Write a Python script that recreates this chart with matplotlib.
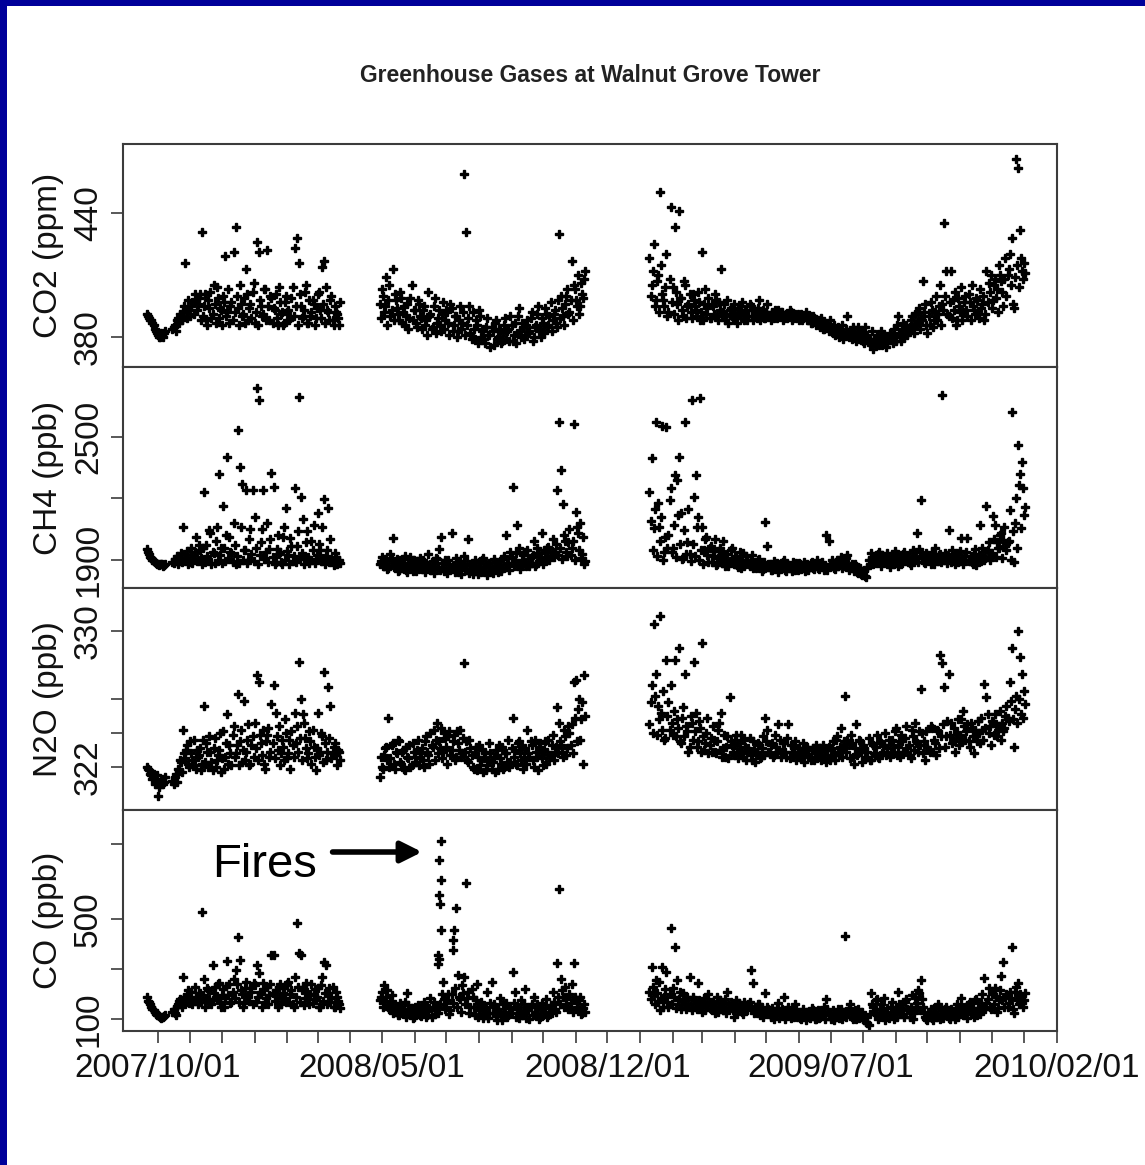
import numpy as np
import pandas as pd
import matplotlib
matplotlib.use("Agg")
import matplotlib.pyplot as plt
import matplotlib.dates as mdates
from matplotlib.patches import Rectangle

nan = np.nan
plt.rcParams['font.family'] = ['Liberation Sans', 'DejaVu Sans']

# ---------------- data ----------------
title = "Greenhouse Gases at Walnut Grove Tower"
seg_starts = ['2007-09-21', '2008-04-29', '2009-01-10']   # "a" samples: even days, "b" samples: +1 day
ylabels = ["CO2 (ppm)", "CH4 (ppb)", "N2O (ppb)", "CO (ppb)"]

co2_s1 = [391, 389, 388, 386, 383, 381, 380, 381, 382, nan,
          nan, nan, 384, 386, 388, 387, 390, 392, 416, 389,
          393, 395, 391, 398, 396, 401, 431, 395, 388, 398,
          402, 391, 396, 404, 389, 393, 400, 419, 392, 387,
          397, 421, 433, 394, 405, 390, 399, 413, 388, 396,
          402, 387, 426, 421, 395, 391, 403, 422, 388, 399,
          394, 401, 386, 397, 392, 387, 400, 393, 389, 404,
          423, 428, 416, 395, 390, 402, 387, 398, 392, 396,
          389, 401, 393, 414, 417, 404, 392, 398, 388, 395,
          391, 386]
co2_s2 = [396, 403, 392, 409, 398, 390, 413, 401, 394, 388,
          399, 392, 386, 396, 389, 405, 393, 387, 398, 390,
          384, 395, 388, 402, 391, 385, 399, 387, 393, 383,
          397, 388, 392, 381, 394, 386, 390, 383, 395, 387,
          459, 431, 389, 382, 392, 379, 386, 393, 380, 384,
          377, 389, 381, 385, 376, 388, 380, 383, 378, 386,
          379, 384, 390, 378, 387, 382, 394, 380, 385, 381,
          388, 383, 392, 380, 386, 395, 384, 389, 382, 391,
          386, 397, 388, 393, 385, 430, 400, 390, 396, 403,
          392, 417, 405, 398, 410, 395, 401, 408]
co2_s3 = [418, 405, 425, 398, 410, 450, 401, 395, 420, 392,
          443, 404, 433, 396, 441, 399, 390, 405, 395, 401,
          389, 398, 393, 402, 388, 421, 396, 391, 399, 389,
          395, 401, 390, 397, 413, 392, 388, 398, 393, 390,
          396, 389, 394, 391, 397, 388, 393, 390, 395, 388,
          392, 389, 398, 391, 393, 389, 396, 390, 392, 389,
          391, 393, 390, 392, 389, 391, 390, 392, 389, 391,
          390, 388, 391, 389, 390, 388, 390, 387, 389, 386,
          388, 385, 387, 384, 386, 383, 385, 382, 381, 384,
          380, 382, 379, 381, 390, 383, 379, 382, 378, 385,
          380, 383, 377, 381, 379, 376, 374, 378, 381, 376,
          383, 378, 380, 377, 382, 379, 384, 378, 390, 381,
          384, 380, 386, 383, 388, 385, 391, 387, 394, 389,
          407, 396, 382, 386, 393, 388, 400, 391, 405, 396,
          435, 412, 390, 412, 398, 402, 388, 395, 404, 392,
          400, 390, 397, 405, 393, 399, 391, 403, 396, 388,
          412, 406, 410, 398, 408, 403, 415, 407, 395, 418,
          410, 420, 428, 394, 466, 462, 432, 412, 416]
co2_s1b = [390, 388, 387, 384, 382, 380, 382, 380, 383, nan,
           nan, nan, 385, 383, 389, 391, 388, 395, 393, 398,
           390, 397, 401, 393, 399, 388,
           390, 401, 386, 394, 389, 405, 387, 399, 394, 386,
           397, 390, 403, 395, 388, 392, 400, 386, 396, 391,
           387, 401, 394, 389, 406, 392, 386, 398, 390, 403,
           388, 395, 400, 387, 393, 389, 404, 391, 386, 397,
           392, 388, 399, 390, 395, 386, 401, 389, 393, 405,
           387, 390, 398, 386, 394, 402, 389, 396, 387, 393,
           388, 400, 386, 392, 389, 397]
co2_s2b = [389, 400, 395, 386, 405, 393, 388, 398, 391, 402,
           387, 395, 390, 384, 399, 388, 393, 385, 396, 389,
           393, 386, 381, 390, 384, 395, 382, 389, 386, 391,
           384, 393, 387, 396, 383, 390, 380, 388, 384, 392,
           381, 386, 395, 379, 384, 388, 377, 390, 383, 379,
           385, 381, 375, 383, 387, 379, 384, 377, 382, 389,
           383, 378, 386, 381, 377, 390, 383, 387, 379, 386,
           382, 389, 378, 385, 391, 383, 380, 387, 394, 385,
           390, 383, 391, 387, 398, 389, 394, 386, 400, 391,
           398, 388, 403, 395, 391, 406, 399, 412]
co2_s3b = [400, 412, 395, 407, 392, 415, 398, 404, 390, 408,
           397, 391, 402, 388, 399, 393, 407, 389, 396, 392,
           401, 395, 390, 397, 392, 388, 403, 394, 389, 396,
           391, 398, 388, 393, 390, 396, 391, 387, 394, 389,
           392, 387, 391, 395, 389, 392, 388, 396, 390, 393,
           390, 394, 388, 391, 389, 392, 390, 388, 391, 393,
           389, 390, 392, 388, 390, 389, 393, 388, 390, 389,
           391, 389, 388, 390, 392, 389, 387, 390, 388, 387,
           386, 389, 384, 387, 385, 388, 384, 386, 383, 385,
           383, 386, 381, 384, 380, 382, 385, 380, 383, 379,
           382, 378, 385, 380, 377, 383, 379, 376, 380, 378,
           376, 381, 375, 379, 381, 377, 380, 386, 382, 378,
           387, 383, 381, 385, 390, 382, 386, 392, 384, 388,
           392, 386, 390, 397, 385, 392, 388, 395, 386, 393,
           400, 391, 397, 389, 393, 386, 399, 392, 388, 397,
           393, 401, 388, 395, 391, 398, 389, 394, 400, 391,
           397, 402, 394, 405, 399, 392, 410, 402, 408, 400,
           413, 405, 396, 409, 415, 404, 418, 408, 411]

ch4_s1 = [1955, 1930, 1910, 1895, 1885, 1880, 1878, 1882, 1876, nan,
          nan, nan, 1890, 1905, 1920, 1895, 1935, 2060, 1910, 1945,
          1890, 1960, 1925, 2010, 1900, 1950, 1880, 2230, 1975, 1905,
          2030, 1940, 1885, 2060, 2320, 1960, 2165, 1895, 2400, 2010,
          1935, 2080, 1880, 2535, 2355, 2270, 1950, 2240, 1900, 2050,
          2240, 2110, 2740, 2680, 1985, 2240, 1910, 2080, 1955, 2325,
          2255, 1890, 2020, 1940, 1880, 2060, 2155, 1925, 2005, 1895,
          2250, 1970, 2695, 2205, 2100, 1915, 2040, 1885, 1990, 2070,
          1905, 2130, 1950, 2060, 2195, 1920, 2155, 2000, 1895, 1935,
          1880, 1900]
ch4_s2 = [1880, 1915, 1870, 1900, 1860, 1930, 2005, 1875, 1905, 1850,
          1890, 1870, 1920, 1840, 1885, 1860, 1900, 1845, 1880, 1910,
          1855, 1890, 1865, 1930, 1850, 1895, 1870, 1905, 1955, 2010,
          1860, 1900, 1835, 1880, 2030, 1865, 1910, 1840, 1895, 1870,
          1920, 1850, 2000, 1875, 1830, 1900, 1855, 1890, 1840, 1910,
          1865, 1825, 1885, 1850, 1905, 1870, 1840, 1895, 1860, 1920,
          2020, 1880, 1940, 2255, 1900, 2070, 1960, 1875, 1925, 1890,
          1950, 1870, 1915, 1990, 1880, 1935, 1900, 2030, 1950, 1905,
          1965, 1920, 2000, 1940, 2240, 2575, 2340, 2175, 1990, 1920,
          2050, 1960, 2565, 2135, 2030, 2080, 1930, 1880]
ch4_s3 = [2230, 2395, 2055, 2575, 2180, 1990, 2555, 1940, 2550, 2020,
          2250, 1960, 2315, 2290, 2400, 2130, 1910, 2575, 1985, 1930,
          2680, 2205, 2315, 2110, 2690, 2060, 1950, 2010, 1890, 1970,
          1920, 2000, 1880, 1945, 1905, 1990, 1870, 1930, 1895, 1960,
          1880, 1915, 1865, 1940, 1895, 1870, 1920, 1880, 1900, 1860,
          1890, 1870, 1905, 1875, 1855, 2085, 1970, 1880, 1850, 1895,
          1860, 1840, 1880, 1870, 1900, 1845, 1875, 1860, 1890, 1850,
          1870, 1885, 1855, 1875, 1845, 1880, 1865, 1890, 1855, 1880,
          1860, 1875, 1890, 1850, 2020, 1990, 1870, 1885, 1855, 1900,
          1880, 1915, 1870, 1895, 1925, 1860, 1880, 1845, 1870, 1835,
          1860, 1825, 1850, 1815, 1900, 1935, 1880, 1920, 1895, 1940,
          1870, 1915, 1890, 1935, 1865, 1905, 1880, 1930, 1870, 1910,
          1885, 1940, 1895, 1920, 1875, 1950, 1900, 2030, 1955, 2190,
          1910, 1885, 1925, 1900, 1940, 1880, 1915, 1895, 1930, 2705,
          1900, 1925, 2045, 1890, 1910, 1880, 1935, 1895, 2005, 1880,
          1920, 2005, 1900, 1890, 1930, 1875, 1905, 2070, 1960, 1900,
          2165, 1985, 1920, 2115, 2070, 1985, 1960, 2030, 1995, 1970,
          1985, 2145, 2620, 1890, 2200, 2460, 2320, 2380, 2120]
ch4_s1b = [1940, 1915, 1900, 1890, 1880, 1875, 1880, 1872, 1878, nan,
           nan, nan, 1885, 1895, 1880, 1910, 1890, 1925, 1900, 1880,
           1915, 1885, 1940, 1895, 1975, 1910, 1960, 1890, 1920, 2045,
           1880, 1935, 1990, 1895, 1925, 1885, 1960, 2020, 1905, 1940,
           1890, 1975, 1920, 1885, 2060, 1900, 1950, 1885, 2000, 1930,
           1895, 1960, 1880, 1925, 2050, 1905, 1940, 1890, 2000, 1915,
           1880, 1955, 1930, 1890, 2010, 1900, 1945, 1880, 1970, 1920,
           1890, 2040, 1905, 1935, 1880, 1985, 1915, 1900, 1950, 1885,
           1925, 1980, 1895, 1910, 1880, 1950, 1890, 1905, 1875, 1915,
           1895, 1885]
ch4_s2b = [1895, 1870, 1905, 1855, 1885, 1910, 1865, 1890, 1845, 1900,
           1860, 1905, 1850, 1880, 1915, 1845, 1870, 1895, 1855, 1880,
           1900, 1840, 1875, 1860, 1890, 1835, 1910, 1865, 1850, 1885,
           1845, 1875, 1900, 1855, 1870, 1840, 1890, 1860, 1830, 1880,
           1855, 1895, 1835, 1870, 1850, 1885, 1830, 1865, 1900, 1845,
           1880, 1850, 1870, 1835, 1890, 1855, 1875, 1845, 1905, 1865,
           1885, 1850, 1910, 1870, 1935, 1880, 1855, 1900, 1940, 1870,
           1905, 1885, 1925, 1870, 1960, 1895, 1915, 1880, 1935, 1960,
           1900, 1945, 1915, 1980, 1925, 1960, 1905, 2020, 1940, 1985,
           1925, 1990, 1900, 2060, 1950, 1910, 2010, 1895]
ch4_s3b = [2090, 1950, 2150, 1920, 2060, 2110, 1900, 2010, 1960, 2190,
           1940, 2070, 1915, 2120, 1980, 1905, 2045, 1930, 2150, 1895,
           1980, 1920, 2060, 1900, 1950, 1880, 2000, 1925, 1960, 1890,
           1945, 1875, 1910, 1960, 1885, 1930, 1900, 1870, 1950, 1890,
           1920, 1875, 1905, 1860, 1935, 1880, 1900, 1870, 1925, 1885,
           1860, 1900, 1875, 1845, 1890, 1865, 1880, 1850, 1875, 1860,
           1885, 1855, 1870, 1890, 1850, 1880, 1865, 1845, 1870, 1885,
           1850, 1880, 1860, 1890, 1870, 1850, 1885, 1860, 1875, 1900,
           1855, 1885, 1865, 1870, 1850, 1880, 1900, 1860, 1890, 1870,
           1900, 1860, 1885, 1910, 1850, 1870, 1860, 1880, 1840, 1860,
           1830, 1845, 1820, 1860, 1880, 1910, 1900, 1885, 1930, 1900,
           1925, 1890, 1905, 1880, 1920, 1900, 1945, 1890, 1915, 1880,
           1930, 1900, 1910, 1885, 1935, 1905, 1920, 1890, 1940, 1910,
           1890, 1935, 1905, 1880, 1920, 1960, 1900, 1925, 1890, 1910,
           1935, 1885, 1915, 1950, 1900, 1925, 1890, 1945, 1910, 1900,
           1940, 1895, 1920, 1880, 1955, 1910, 1925, 1895, 1940, 1910,
           1950, 1900, 1935, 2000, 1915, 1960, 2020, 1910, 2060, 1950,
           1990, 1900, 2040, 2080, 1960, 2265, 2055, 2250, 2160]

n2o_s1 = [322.0, 321.8, 321.5, 321.6, 321.2, 320.3, 321.0, 321.3, 321.1, nan,
          nan, nan, 321.2, 321.4, 321.1, 321.8, 322.3, 324.2, 322.5, 323.3,
          322.0, 322.8, 323.6, 321.9, 322.6, 323.1, 322.2, 325.6, 323.4, 322.0,
          322.9, 321.8, 323.7, 322.4, 323.0, 321.7, 324.1, 322.6, 325.1, 323.3,
          322.1, 324.4, 322.8, 326.3, 323.5, 322.3, 325.9, 322.9, 324.5, 322.2,
          323.8, 324.6, 327.4, 327.0, 323.4, 324.2, 321.9, 323.9, 322.6, 325.7,
          326.8, 325.2, 323.0, 322.1, 323.6, 322.4, 324.0, 322.8, 321.9, 323.3,
          325.2, 324.4, 328.2, 326.0, 325.1, 323.7, 322.5, 324.1, 322.2, 323.2,
          321.8, 325.2, 322.9, 323.8, 327.6, 322.4, 326.7, 325.6, 322.8, 323.4,
          322.1, 322.9]
n2o_s2 = [321.4, 322.0, 322.7, 323.2, 324.9, 322.5, 323.4, 321.9, 322.8, 323.5,
          322.2, 323.0, 321.8, 322.6, 323.3, 322.1, 322.9, 322.3, 323.6, 322.5,
          323.1, 322.0, 323.8, 322.7, 324.0, 323.2, 322.4, 324.6, 323.5, 324.3,
          322.9, 323.7, 322.2, 324.1, 323.0, 323.9, 322.6, 323.4, 324.2, 322.8,
          328.1, 323.5, 322.3, 323.1, 322.0, 322.8, 321.8, 323.3, 322.4, 321.7,
          322.9, 322.1, 323.4, 321.9, 322.6, 323.0, 321.8, 322.5, 323.2, 322.0,
          322.8, 323.6, 322.3, 324.9, 323.0, 322.1, 323.5, 322.4, 321.9, 323.1,
          324.2, 322.6, 323.3, 322.0, 322.9, 321.8, 323.4, 322.5, 323.0, 322.2,
          323.6, 322.7, 323.9, 322.9, 325.5, 324.6, 323.3, 322.6, 323.8, 323.1,
          324.0, 324.5, 327.0, 327.1, 325.4, 323.6, 325.8, 327.4]
n2o_s3 = [324.5, 326.8, 330.4, 327.5, 325.6, 330.9, 324.2, 323.6, 328.3, 325.8,
          326.8, 323.9, 328.3, 324.8, 329.0, 323.4, 325.5, 327.5, 324.1, 323.2,
          324.6, 328.2, 325.2, 323.5, 324.3, 329.3, 323.0, 324.0, 322.8, 323.7,
          324.4, 322.9, 323.5, 324.6, 325.2, 323.1, 322.6, 323.8, 326.1, 323.3,
          322.7, 323.9, 322.5, 323.4, 322.8, 323.6, 322.4, 323.1, 322.7, 323.5,
          322.3, 322.9, 323.3, 322.6, 323.8, 324.9, 324.2, 322.8, 323.4, 322.7,
          323.2, 324.5, 323.6, 322.9, 323.4, 322.6, 324.5, 323.3, 322.8, 323.5,
          322.7, 323.1, 322.5, 323.4, 322.9, 323.2, 322.6, 323.0, 322.4, 323.3,
          322.7, 323.1, 322.5, 322.9, 322.3, 323.2, 322.6, 323.5, 322.4, 323.8,
          322.7, 324.3, 323.2, 326.2, 323.6, 322.5, 323.4, 322.2, 324.5, 322.8,
          323.5, 322.3, 323.1, 322.6, 323.7, 322.4, 323.3, 322.7, 323.9, 322.5,
          323.4, 322.9, 324.0, 323.1, 322.6, 323.6, 322.8, 324.3, 323.2, 322.6,
          323.5, 322.9, 324.4, 323.3, 322.5, 323.8, 324.6, 323.4, 324.1, 326.6,
          322.8, 322.4, 323.2, 322.9, 324.3, 323.6, 322.7, 324.1, 328.6, 328.1,
          326.7, 323.8, 327.5, 324.6, 323.5, 322.9, 324.0, 323.3, 324.8, 325.3,
          323.6, 324.5, 323.2, 324.3, 322.8, 323.9, 324.7, 323.4, 324.2, 326.9,
          326.1, 324.0, 323.3, 324.6, 325.1, 323.8, 324.4, 323.6, 324.1, 325.0,
          324.9, 327.0, 329.0, 323.2, 326.2, 330.0, 328.5, 327.5, 326.5]
n2o_s1b = [321.9, 321.6, 321.3, 321.0, 321.5, 320.8, 321.2, 321.0, 321.4, nan,
           nan, nan, 321.0, 321.6, 321.9, 322.4, 321.7, 322.8, 323.0, 322.2,
           323.5, 322.4, 322.1, 323.0, 322.7, 321.8, 323.6, 322.3, 322.9, 323.8,
           322.3, 323.1, 322.0, 322.7, 324.0, 322.5, 321.9, 323.4, 322.2, 322.8,
           323.9, 322.6, 323.3, 322.1, 324.2, 323.0, 322.4, 323.6, 322.1, 323.3,
           322.6, 323.1, 322.4, 323.9, 322.7, 322.2, 323.5, 324.3, 322.9, 323.4,
           322.5, 323.8, 324.4, 322.8, 323.2, 324.8, 322.5, 323.6, 324.1, 322.6,
           323.4, 322.9, 323.7, 322.4, 324.6, 323.1, 322.8, 323.5, 324.2, 322.6,
           323.1, 322.7, 324.0, 322.3, 323.4, 322.9, 323.7, 322.5, 323.2, 322.7,
           323.0, 322.4]
n2o_s2b = [322.6, 321.9, 323.1, 322.4, 322.0, 323.3, 322.2, 322.9, 323.6, 322.3,
           322.9, 321.9, 323.2, 322.5, 322.0, 323.4, 322.6, 323.0, 322.1, 322.8,
           322.4, 323.5, 322.9, 322.2, 323.3, 324.2, 323.6, 322.8, 323.1, 322.5,
           324.0, 323.2, 323.8, 322.7, 323.5, 322.4, 324.1, 323.0, 322.6, 323.7,
           322.9, 322.4, 323.6, 322.7, 321.9, 323.2, 322.6, 322.1, 323.0, 322.5,
           321.8, 322.4, 322.8, 322.3, 321.7, 322.7, 323.3, 322.2, 321.9, 322.8,
           322.3, 322.0, 323.1, 322.6, 322.2, 323.4, 322.8, 323.2, 322.5, 322.2,
           322.8, 323.5, 322.4, 323.6, 322.6, 323.2, 322.7, 322.1, 323.5, 322.9,
           322.5, 323.3, 322.4, 323.2, 322.8, 323.5, 322.9, 324.2, 322.7, 324.4,
           323.3, 322.8, 324.9, 323.5, 326.0, 324.8, 322.2, 325.0]
n2o_s3b = [325.8, 324.0, 326.2, 323.9, 324.8, 325.2, 326.5, 323.7, 325.0, 324.2,
           324.6, 325.3, 323.8, 324.3, 323.5, 324.9, 323.8, 324.4, 322.9, 325.0,
           323.6, 324.1, 323.2, 324.7, 322.9, 323.8, 323.4, 324.9, 323.3, 322.9,
           323.6, 322.8, 324.2, 323.0, 322.6, 323.9, 323.2, 322.5, 323.5, 322.9,
           323.6, 323.1, 322.8, 323.9, 322.6, 323.2, 322.9, 323.7, 322.4, 323.0,
           322.8, 323.4, 322.5, 323.1, 322.7, 323.5, 322.9, 323.3, 322.6, 323.9,
           322.8, 323.0, 322.6, 323.4, 322.9, 323.7, 322.5, 322.9, 323.2, 322.4,
           323.1, 322.6, 322.9, 322.3, 323.2, 322.7, 322.4, 323.1, 322.8, 322.5,
           323.0, 322.4, 323.3, 322.7, 323.0, 322.4, 323.1, 322.8, 323.6, 322.9,
           323.2, 322.6, 323.5, 322.9, 323.3, 323.9, 322.6, 323.1, 322.7, 323.6,
           322.9, 323.3, 322.5, 322.9, 322.4, 323.4, 322.8, 323.2, 322.6, 323.5,
           322.8, 323.3, 322.7, 323.6, 322.9, 323.3, 324.1, 322.7, 323.5, 323.9,
           322.9, 323.7, 323.1, 322.7, 324.2, 323.0, 323.5, 322.9, 323.3, 324.0,
           323.5, 324.1, 323.0, 324.4, 322.9, 323.4, 324.2, 323.1, 323.8, 324.5,
           323.2, 324.7, 323.9, 323.4, 324.3, 323.7, 324.8, 323.9, 323.5, 324.4,
           324.1, 323.5, 324.6, 323.8, 324.2, 323.5, 324.0, 324.9, 323.6, 324.3,
           325.1, 324.4, 324.7, 323.9, 324.5, 324.2, 325.3, 324.6, 324.3, 325.6,
           324.7, 325.9, 324.8, 325.4, 324.6, 326.0, 325.1, 324.9, 325.7]

co_s1 = [188, 170, 148, 135, 122, 116, 110, 108, 112, nan,
         nan, nan, 130, 124, 150, 172, 160, 268, 182, 198,
         165, 210, 175, 190, 160, 205, 528, 260, 180, 215,
         168, 316, 230, 175, 245, 150, 220, 185, 332, 240,
         170, 260, 296, 428, 336, 200, 165, 250, 190, 225,
         160, 235, 316, 284, 200, 245, 170, 230, 195, 356,
         356, 215, 150, 240, 185, 225, 170, 250, 200, 160,
         268, 484, 364, 356, 230, 185, 210, 160, 240, 195,
         175, 225, 150, 268, 328, 316, 205, 170, 230, 150,
         190, 160]
co_s2 = [176, 208, 236, 190, 150, 172, 125, 160, 138, 115,
         148, 130, 168, 204, 122, 145, 110, 135, 155, 118,
         142, 170, 108, 132, 185, 150, 120, 150, 340, 812,
         248, 140, 175, 120, 200, 456, 544, 276, 180, 236,
         268, 644, 210, 150, 190, 118, 240, 135, 170, 105,
         150, 210, 125, 248, 160, 112, 140, 185, 98, 130,
         165, 115, 150, 288, 208, 140, 105, 175, 125, 220,
         145, 100, 160, 190, 120, 148, 108, 165, 130, 180,
         115, 155, 210, 140, 324, 620, 260, 190, 230, 150,
         200, 240, 324, 175, 140, 190, 125, 160]
co_s3 = [210, 308, 204, 256, 170, 136, 308, 190, 288, 150,
         464, 225, 388, 256, 180, 140, 205, 160, 190, 268,
         135, 175, 150, 244, 170, 130, 185, 155, 200, 140,
         170, 125, 190, 150, 165, 135, 180, 208, 145, 160,
         108, 175, 140, 155, 130, 170, 145, 160, 296, 244,
         150, 125, 160, 135, 110, 204, 150, 120, 145, 100,
         130, 165, 115, 140, 188, 120, 150, 105, 135, 160,
         110, 125, 100, 140, 115, 130, 105, 145, 120, 100,
         135, 110, 125, 150, 180, 115, 100, 135, 110, 125,
         105, 140, 118, 432, 130, 160, 110, 125, 100, 140,
         115, 130, 95, 90, 76, 204, 150, 120, 180, 110,
         160, 135, 95, 145, 115, 170, 100, 140, 208, 125,
         160, 110, 180, 135, 150, 100, 190, 165, 204, 256,
         150, 110, 95, 130, 105, 145, 120, 160, 100, 135,
         115, 150, 105, 140, 125, 100, 160, 130, 185, 115,
         150, 105, 170, 135, 110, 180, 145, 120, 200, 264,
         165, 225, 140, 200, 224, 130, 180, 272, 328, 190,
         150, 210, 388, 124, 230, 244, 200, 165, 176]
co_s1b = [172, 160, 140, 128, 118, 112, 106, 110, 115, nan,
          nan, nan, 140, 118, 162, 180, 150, 190, 170, 215,
          185, 160, 228, 178, 205, 168, 195, 150, 225, 182,
          160, 205, 188, 240, 170, 198, 150, 232, 195, 165,
          210, 185, 240, 170, 215, 150, 225, 190, 172, 208,
          245, 168, 190, 210, 150, 222, 185, 160, 240, 205,
          172, 195, 228, 160, 205, 185, 240, 168, 215, 150,
          190, 230, 170, 215, 158, 245, 180, 200, 165, 222,
          190, 150, 235, 172, 205, 160, 225, 185, 150, 210,
          172, 145]
co_s2b = [190, 150, 168, 215, 140, 195, 132, 150, 118, 165,
          125, 142, 110, 158, 130, 105, 150, 122, 140, 112,
          130, 155, 118, 145, 110, 170, 135, 125, 160, 200,
          180, 150, 200, 135, 165, 225, 150, 190, 130, 205,
          160, 185, 125, 220, 150, 175, 110, 160, 132, 118,
          140, 105, 165, 125, 150, 98, 130, 112, 160, 120,
          108, 145, 125, 165, 110, 150, 130, 118, 160, 105,
          135, 150, 115, 125, 160, 102, 140, 118, 150, 110,
          145, 125, 168, 130, 190, 160, 215, 150, 180, 140,
          165, 130, 190, 150, 175, 120, 145, 130]
co_s3b = [180, 230, 160, 205, 250, 185, 150, 220, 170, 200,
          160, 190, 145, 175, 210, 155, 180, 140, 165, 150,
          190, 160, 140, 175, 150, 165, 135, 180, 145, 170,
          140, 160, 130, 175, 145, 160, 125, 150, 170, 135,
          155, 130, 165, 145, 120, 155, 135, 170, 140, 125,
          135, 160, 115, 145, 130, 125, 140, 110, 130, 120,
          145, 105, 130, 120, 100, 135, 115, 125, 110, 140,
          120, 105, 130, 112, 95, 125, 115, 135, 100, 118,
          105, 130, 115, 100, 140, 125, 108, 95, 120, 140,
          115, 100, 130, 110, 145, 120, 100, 135, 115, 105,
          125, 100, 110, 85, 120, 160, 130, 175, 100, 140,
          115, 185, 125, 105, 150, 120, 135, 110, 160, 145,
          120, 170, 140, 110, 195, 125, 150, 215, 135, 180,
          125, 100, 118, 140, 95, 125, 110, 150, 120, 105,
          140, 120, 100, 130, 115, 145, 110, 125, 150, 135,
          120, 160, 125, 145, 175, 115, 130, 165, 150, 140,
          180, 150, 205, 160, 190, 145, 215, 175, 150, 200,
          165, 185, 140, 210, 175, 160, 190, 150, 205]

# extra same-day observations (fire plume column)
co_extra_dates = ['2008-06-23', '2008-06-23', '2008-06-24', '2008-06-24',
                  '2008-06-25', '2008-06-26', '2008-06-26', '2008-07-07', '2008-07-07']
co_extra_vals = [356, 320, 736, 596, 560, 656, 456, 416, 376]

y_limits = [(365.5, 473.4), (1763, 2841), (319.47, 332.53), (52, 936)]
y_ticks = [[380, 440], [1900, 2200, 2500], [322, 324, 326, 330], [100, 300, 500, 800]]
y_ticklabels = [['380', '440'], ['1900', '', '2500'], ['322', '', '', '330'], ['100', '', '500', '']]

x_start, x_end = '2007-08-29', '2010-02-01'
x_labeled = ['2007-10-01', '2008-05-01', '2008-12-01', '2009-07-01', '2010-02-01']

fires_text = "Fires"
fires_text_pos = ('2007-11-22', 668)
fires_arrow_tail = ('2008-03-15', 768)
fires_arrow_head = ('2008-06-08', 768)

# ---------------- figure ----------------
FW, FH = 1145, 1165
fig = plt.figure(figsize=(FW / 100, FH / 100), dpi=100)
fig.patch.set_facecolor('white')
blue = '#00009a'
fig.add_artist(Rectangle((0, 0), 7 / FW, 1, transform=fig.transFigure,
                         facecolor=blue, edgecolor='none', zorder=10))
fig.add_artist(Rectangle((0, 1 - 6 / FH), 1, 6 / FH, transform=fig.transFigure,
                         facecolor=blue, edgecolor='none', zorder=10))

left_px, right_px = 123, 1057
tops = [144, 367, 588, 810]
bots = [367, 588, 810, 1031]

series_a = [(co2_s1, co2_s2, co2_s3), (ch4_s1, ch4_s2, ch4_s3),
            (n2o_s1, n2o_s2, n2o_s3), (co_s1, co_s2, co_s3)]
series_b = [(co2_s1b, co2_s2b, co2_s3b), (ch4_s1b, ch4_s2b, ch4_s3b),
            (n2o_s1b, n2o_s2b, n2o_s3b), (co_s1b, co_s2b, co_s3b)]

spine_color = '#3c3c3c'
xmin = mdates.date2num(pd.Timestamp(x_start))
xmax = mdates.date2num(pd.Timestamp(x_end))
mk = dict(linestyle='none', marker='P', ms=6.4, mew=1.0, mec='black', mfc='black', color='black')

axes = []
for k in range(4):
    ax = fig.add_axes([left_px / FW, 1 - bots[k] / FH,
                       (right_px - left_px) / FW, (bots[k] - tops[k]) / FH])
    axes.append(ax)
    for offset, group in ((0, series_a[k]), (1, series_b[k])):
        for start, vals in zip(seg_starts, group):
            d = pd.date_range(pd.Timestamp(start) + pd.Timedelta(days=offset),
                              periods=len(vals), freq='2D')
            ax.plot(mdates.date2num(d.to_pydatetime()), vals, **mk)
    if k == 3:
        ed = pd.to_datetime(co_extra_dates)
        ax.plot(mdates.date2num(ed.to_pydatetime()), co_extra_vals, **mk)
    ax.set_xlim(xmin, xmax)
    ax.set_ylim(*y_limits[k])
    ax.set_yticks(y_ticks[k])
    ax.set_yticklabels(y_ticklabels[k], rotation=90, va='center')
    ax.tick_params(axis='y', direction='out', length=8.6, width=1.2,
                   color=spine_color, pad=5, labelsize=24, labelcolor='#111111')
    for s in ax.spines.values():
        s.set_color(spine_color)
        s.set_linewidth(1.5)
    ax.set_ylabel(ylabels[k], fontsize=24, color='#111111')
    ax.yaxis.set_label_coords(-0.063, 0.5)
    if k < 3:
        ax.tick_params(axis='x', bottom=False, labelbottom=False)

ax = axes[3]
month_ticks = pd.date_range(pd.Timestamp('2007-10-01'), pd.Timestamp(x_end), freq='MS')
lab_set = set(pd.to_datetime(x_labeled))
ax.set_xticks(mdates.date2num(month_ticks.to_pydatetime()))
ax.set_xticklabels([t.strftime('%Y/%m/%d') if t in lab_set else '' for t in month_ticks])
ax.tick_params(axis='x', direction='out', length=8.6, width=1.2, color=spine_color,
               pad=7, labelsize=24, labelcolor='#111111')

tx = mdates.date2num(pd.Timestamp(fires_text_pos[0]))
ax.text(tx, fires_text_pos[1], fires_text, fontsize=34, ha='left', va='baseline', color='black')
ax.annotate('', xy=(mdates.date2num(pd.Timestamp(fires_arrow_head[0])), fires_arrow_head[1]),
            xytext=(mdates.date2num(pd.Timestamp(fires_arrow_tail[0])), fires_arrow_tail[1]),
            arrowprops=dict(arrowstyle='-|>,head_length=0.9,head_width=0.45',
                            lw=4, color='black', shrinkA=0, shrinkB=0, mutation_scale=14))

fig.text(590 / FW, 1 - 76 / FH, title, ha='center', va='center', fontsize=16.5,
         fontweight='bold', color='#222222')

fig.savefig('out.png', dpi=100, facecolor='white')
